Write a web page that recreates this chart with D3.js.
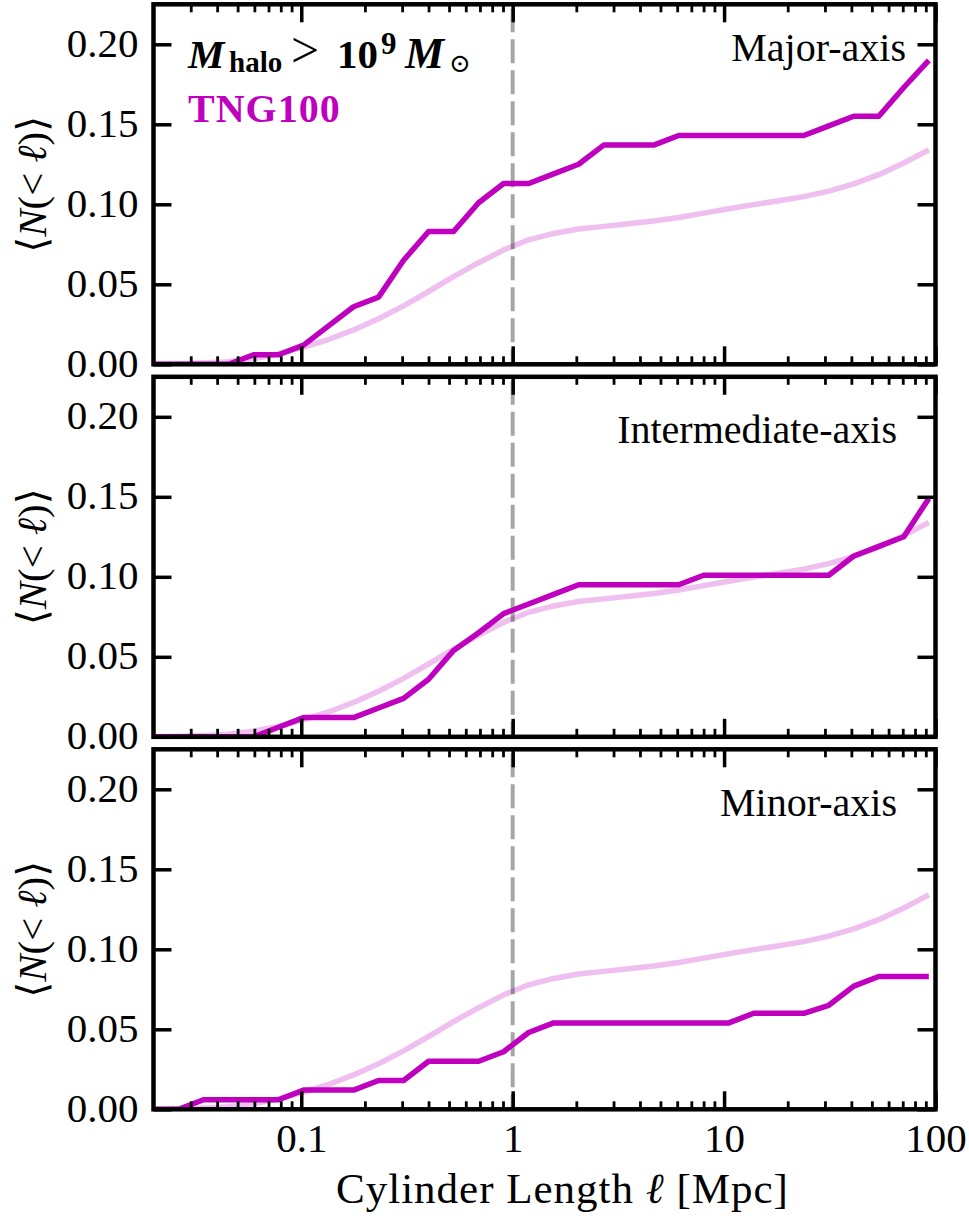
<!DOCTYPE html>
<html>
<head>
<meta charset="utf-8">
<script src="https://cdn.jsdelivr.net/npm/d3@7"></script>
<style>
  html, body { margin: 0; padding: 0; background: #fff; }
  svg { display: block; }
</style>
</head>
<body>
<svg id="chart" width="969" height="1219"></svg>
<script>
// Cylinder lengths (Mpc), log-spaced sampling grid
const lengths = [0.0200, 0.02626, 0.03447, 0.04527, 0.05945, 0.07806, 0.1025, 0.1346,
  0.1767, 0.2321, 0.3048, 0.4002, 0.5255, 0.6901, 0.9062, 1.190, 1.562, 2.051,
  2.694, 3.537, 4.645, 6.100, 8.010, 10.52, 13.81, 18.14, 23.82, 31.27, 41.07,
  53.92, 70.79, 92.97];

// Reference expectation (same curve in every panel)
const reference = [0.0000, 0.0003, 0.0008, 0.0016, 0.0035, 0.0065, 0.0108, 0.0155,
  0.0215, 0.0285, 0.0365, 0.0455, 0.0548, 0.0635, 0.0715, 0.0778, 0.0818, 0.0846,
  0.0862, 0.0878, 0.0896, 0.0918, 0.0945, 0.0972, 0.0998, 0.1022, 0.1048, 0.1082,
  0.1128, 0.1185, 0.1258, 0.1340];

// TNG100 mean counts along each halo axis
const majorAxis = [0, 0, 0, 0, 0.006, 0.006, 0.012, 0.024, 0.036, 0.042, 0.065, 0.083,
  0.083, 0.101, 0.113, 0.113, 0.119, 0.125, 0.137, 0.137, 0.137, 0.143, 0.143, 0.143,
  0.143, 0.143, 0.143, 0.149, 0.155, 0.155, 0.173, 0.190];
const intermediateAxis = [0, 0, 0, 0, 0, 0.006, 0.012, 0.012, 0.012, 0.018, 0.024, 0.036,
  0.054, 0.065, 0.077, 0.083, 0.089, 0.095, 0.095, 0.095, 0.095, 0.095, 0.101, 0.101,
  0.101, 0.101, 0.101, 0.101, 0.113, 0.119, 0.125, 0.149];
const minorAxis = [0, 0, 0.006, 0.006, 0.006, 0.006, 0.012, 0.012, 0.012, 0.018, 0.018, 0.030,
  0.030, 0.030, 0.036, 0.048, 0.054, 0.054, 0.054, 0.054, 0.054, 0.054, 0.054, 0.054,
  0.060, 0.060, 0.060, 0.065, 0.077, 0.083, 0.083, 0.083];

const panelLabels = ["Major-axis", "Intermediate-axis", "Minor-axis"];
const seriesByPanel = [majorAxis, intermediateAxis, minorAxis];

const xTickValues = [0.1, 1, 10, 100];
const xTickLabels = ["0.1", "1", "10", "100"];
const yTickValues = [0, 0.05, 0.10, 0.15, 0.20];
const yTickLabels = ["0.00", "0.05", "0.10", "0.15", "0.20"];

// ---- layout ----
const SERIF = "'Liberation Serif', 'Times New Roman', 'DejaVu Serif', serif";
const MAGENTA = "#bf00bf";
const left = 153.5, right = 935.5;
const panelTops = [4.3, 376.8, 749.3];
const panelH = 360;
const xDomain = [0.02, 100];
const yDomain = [0, 0.225];
const labelOffsets = [{ dx: 906, dy: 57 }, { dx: 897, dy: 66 }, { dx: 897, dy: 67 }];

const svg = d3.select("#chart");
const x = d3.scaleLog().domain(xDomain).range([left, right]);

const minorTicks = [];
[0.01, 0.1, 1, 10].forEach(dec => {
  for (let m = 2; m <= 9; m++) {
    const v = +(dec * m).toPrecision(3);
    if (v > xDomain[0] && v < xDomain[1]) minorTicks.push(v);
  }
});

const defs = svg.append("defs");

panelTops.forEach((top, i) => {
  const y = d3.scaleLinear().domain(yDomain).range([top + panelH, top]);
  const g = svg.append("g");

  defs.append("clipPath").attr("id", "clip" + i)
    .append("rect").attr("x", left).attr("y", top)
    .attr("width", right - left).attr("height", panelH);

  const line = d3.line()
    .x((d, k) => x(lengths[k]))
    .y(d => y(d));

  const plot = g.append("g").attr("clip-path", `url(#clip${i})`);

  plot.append("path")
    .datum(reference)
    .attr("d", line)
    .attr("fill", "none")
    .attr("stroke", MAGENTA)
    .attr("stroke-opacity", 0.25)
    .attr("stroke-width", 5.5)
    .attr("stroke-linejoin", "round");

  plot.append("line")
    .attr("x1", x(1)).attr("x2", x(1))
    .attr("y1", top).attr("y2", top + panelH)
    .attr("stroke", "#000")
    .attr("stroke-opacity", 0.35)
    .attr("stroke-width", 4)
    .attr("stroke-dasharray", "24 7")
    .attr("stroke-dashoffset", -4);

  plot.append("path")
    .datum(seriesByPanel[i])
    .attr("d", line)
    .attr("fill", "none")
    .attr("stroke", MAGENTA)
    .attr("stroke-width", 5.5)
    .attr("stroke-linejoin", "round");

  // inward ticks on all four sides
  const styleAxis = (sel, w) => {
    sel.attr("font-family", SERIF);
    sel.select(".domain").remove();
    sel.selectAll(".tick line").attr("stroke", "#000").attr("stroke-width", w);
  };
  const isLast = i === panelTops.length - 1;

  const bottomMajor = g.append("g").attr("transform", `translate(0,${top + panelH})`)
    .call(d3.axisBottom(x).tickValues(xTickValues).tickSizeInner(-18).tickSizeOuter(0)
      .tickFormat((d, k) => isLast ? xTickLabels[k] : ""));
  styleAxis(bottomMajor, 3.5);
  bottomMajor.selectAll(".tick text")
    .style("font-family", SERIF)
    .attr("font-size", 41)
    .attr("dy", 0).attr("y", 43);

  const bottomMinor = g.append("g").attr("transform", `translate(0,${top + panelH})`)
    .call(d3.axisBottom(x).tickValues(minorTicks).tickSizeInner(-8).tickSizeOuter(0).tickFormat(""));
  styleAxis(bottomMinor, 2.8);

  const topMajor = g.append("g").attr("transform", `translate(0,${top})`)
    .call(d3.axisTop(x).tickValues(xTickValues).tickSizeInner(-18).tickSizeOuter(0).tickFormat(""));
  styleAxis(topMajor, 3.5);
  const topMinor = g.append("g").attr("transform", `translate(0,${top})`)
    .call(d3.axisTop(x).tickValues(minorTicks).tickSizeInner(-8).tickSizeOuter(0).tickFormat(""));
  styleAxis(topMinor, 2.8);

  const leftAxis = g.append("g").attr("transform", `translate(${left},0)`)
    .call(d3.axisLeft(y).tickValues(yTickValues).tickSizeInner(-18).tickSizeOuter(0)
      .tickFormat((d, k) => yTickLabels[k]));
  styleAxis(leftAxis, 3.5);
  leftAxis.selectAll(".tick text")
    .style("font-family", SERIF)
    .attr("font-size", 41)
    .attr("x", -15).attr("dy", 0).attr("y", 12);

  const rightAxis = g.append("g").attr("transform", `translate(${right},0)`)
    .call(d3.axisRight(y).tickValues(yTickValues).tickSizeInner(-18).tickSizeOuter(0).tickFormat(""));
  styleAxis(rightAxis, 3.5);

  // frame
  g.append("rect")
    .attr("x", left).attr("y", top)
    .attr("width", right - left).attr("height", panelH)
    .attr("fill", "none").attr("stroke", "#000").attr("stroke-width", 4.5);

  // axis name per panel
  const yl = g.append("text")
    .attr("transform", `translate(46,${top + panelH / 2}) rotate(-90)`)
    .attr("text-anchor", "middle")
    .style("font-family", SERIF)
    .attr("font-size", 41);
  yl.append("tspan").text("\u27E8");
  yl.append("tspan").attr("font-style", "italic").text("N");
  yl.append("tspan").text("(< ");
  yl.append("tspan").attr("font-style", "italic").text("\u2113");
  yl.append("tspan").text(")\u27E9");

  // panel title
  g.append("text")
    .attr("x", labelOffsets[i].dx)
    .attr("y", top + labelOffsets[i].dy)
    .attr("text-anchor", "end")
    .style("font-family", SERIF)
    .attr("font-size", 40)
    .text(panelLabels[i]);
});

// sample selection note: M_halo > 10^9 M_sun
const note = svg.append("text")
  .attr("y", 68)
  .style("font-family", SERIF)
  .attr("font-size", 41)
  .attr("font-weight", "bold");
note.append("tspan").attr("x", 188).attr("font-style", "italic").text("M");
note.append("tspan").attr("x", 229).attr("y", 72).attr("font-size", 29).text("halo");
note.append("tspan").attr("x", 291).attr("y", 67).attr("font-size", 50).attr("font-weight", "normal").text(">");
note.append("tspan").attr("x", 337).attr("y", 68).text("10");
note.append("tspan").attr("x", 381).attr("y", 54).attr("font-size", 31).text("9");
note.append("tspan").attr("x", 405).attr("y", 68).attr("font-style", "italic").attr("font-size", 44).text("M");
note.append("tspan").attr("x", 449).attr("y", 72).attr("font-size", 26).attr("font-weight", "normal")
  .style("font-family", "'DejaVu Serif', serif").text("\u2299");

svg.append("text")
  .attr("x", 188).attr("y", 122)
  .style("font-family", SERIF)
  .attr("font-size", 40)
  .attr("font-weight", "bold")
  .attr("letter-spacing", 1)
  .attr("fill", MAGENTA)
  .text("TNG100");

// shared x-axis title
const xl = svg.append("text")
  .attr("x", (left + right) / 2 + 18)
  .attr("y", 1203)
  .attr("text-anchor", "middle")
  .style("font-family", SERIF)
  .attr("font-size", 43)
  .attr("letter-spacing", 1);
xl.append("tspan").text("Cylinder Length ");
xl.append("tspan").attr("font-style", "italic").text("\u2113");
xl.append("tspan").text(" [Mpc]");
</script>
</body>
</html>
